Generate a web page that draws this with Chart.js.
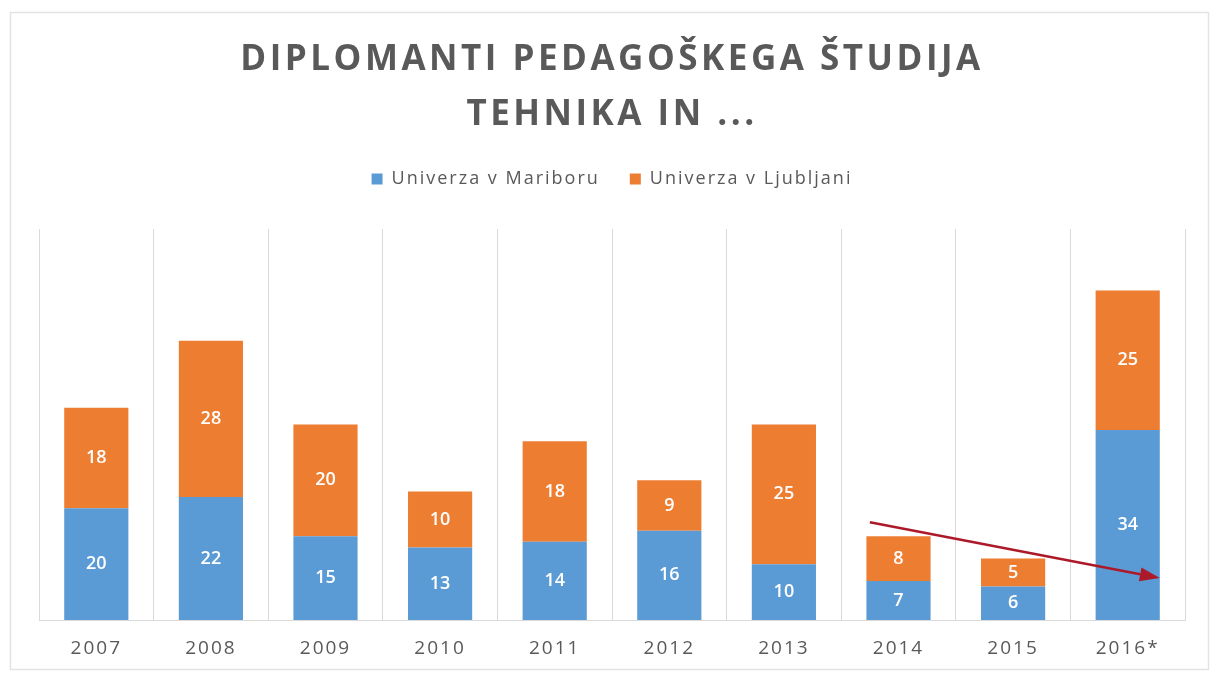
<!DOCTYPE html>
<html>
<head>
<meta charset="utf-8">
<script src="https://cdn.jsdelivr.net/npm/chart.js@4/dist/chart.umd.min.js"></script>
<style>
    html, body { margin: 0; padding: 0; background: #fff; }
    #wrap { width: 1212px; height: 675px; position: relative; }
</style>
</head>
<body>
<div id="wrap"><canvas id="graduates-chart"></canvas></div>
<script>
let years = ['2007', '2008', '2009', '2010', '2011', '2012', '2013', '2014', '2015', '2016*'];
let mariborValues = [20, 22, 15, 13, 14, 16, 10, 7, 6, 34];
let ljubljanaValues = [18, 28, 20, 10, 18, 9, 25, 8, 5, 25];
let seriesNames = ['Univerza v Mariboru', 'Univerza v Ljubljani'];
let titleLines = ['DIPLOMANTI PEDAGOŠKEGA ŠTUDIJA', 'TEHNIKA IN ...'];

// trend arrow, in data units: [category index, value]
let arrowFrom = [6.75, 17.5];
let arrowTo = [9.28, 7.5];

let ctx = document.getElementById('graduates-chart').getContext('2d');
Chart.defaults.font.family = '"Open Sans", sans-serif';

let spacing = {
    id: 'spacing',
    beforeUpdate: function (chart) {
        chart.ctx.letterSpacing = '2px';
    },
    beforeDraw: function (chart) {
        let c = chart.ctx;
        c.letterSpacing = '2px';
        // light frame round the picture
        c.save();
        c.strokeStyle = '#e3e3e3';
        c.lineWidth = 1.5;
        c.strokeRect(10.5, 12.5, 1198, 657);
        c.restore();
    }
};

let extras = {
    id: 'extras',
    afterDatasetsDraw: function (chart) {
        let c = chart.ctx;
        c.save();
        c.letterSpacing = '0px';
        c.font = '600 18px "Open Sans"';
        c.fillStyle = '#ffffff';
        c.textAlign = 'center';
        c.textBaseline = 'middle';
        chart.data.datasets.forEach(function (ds, i) {
            chart.getDatasetMeta(i).data.forEach(function (bar, j) {
                c.fillText(ds.data[j], bar.x, (bar.y + bar.base) / 2);
            });
        });

        // arrow
        let x = chart.scales.x, y = chart.scales.y;
        let x0 = x.getPixelForValue(arrowFrom[0]), y0 = y.getPixelForValue(arrowFrom[1]);
        let x1 = x.getPixelForValue(arrowTo[0]), y1 = y.getPixelForValue(arrowTo[1]);
        let ang = Math.atan2(y1 - y0, x1 - x0);
        let head = 20, half = 7;
        c.strokeStyle = '#ac1a2a';
        c.fillStyle = '#ac1a2a';
        c.lineWidth = 2.5;
        c.beginPath();
        c.moveTo(x0, y0);
        c.lineTo(x1 - head * Math.cos(ang), y1 - head * Math.sin(ang));
        c.stroke();
        c.beginPath();
        c.moveTo(x1, y1);
        c.lineTo(x1 - head * Math.cos(ang) + half * Math.sin(ang), y1 - head * Math.sin(ang) - half * Math.cos(ang));
        c.lineTo(x1 - head * Math.cos(ang) - half * Math.sin(ang), y1 - head * Math.sin(ang) + half * Math.cos(ang));
        c.closePath();
        c.fill();
        c.restore();
    },
    afterDraw: function (chart) {
        let c = chart.ctx;
        let cx = (chart.chartArea.left + chart.chartArea.right) / 2;
        c.save();
        c.letterSpacing = '3.5px';
        c.font = 'bold 35px "Open Sans"';
        c.fillStyle = '#595959';
        c.textAlign = 'center';
        c.textBaseline = 'middle';
        c.fillText(titleLines[0], cx, 60);
        c.fillText(titleLines[1], cx, 115);
        c.restore();
    }
};

let chart = new Chart(ctx, {
    type: 'bar',
    data: {
        labels: years,
        datasets: [{
            label: seriesNames[0],
            data: mariborValues,
            backgroundColor: '#5b9bd5',
            borderWidth: 0,
            barPercentage: 0.56,
            categoryPercentage: 1
        }, {
            label: seriesNames[1],
            data: ljubljanaValues,
            backgroundColor: '#ed7d31',
            borderWidth: 0,
            barPercentage: 0.56,
            categoryPercentage: 1
        }]
    },
    options: {
        responsive: true,
        maintainAspectRatio: false,
        animation: false,
        layout: {padding: {top: 140, left: 39, right: 27, bottom: 16}},
        plugins: {
            legend: {
                position: 'top',
                labels: {
                    boxWidth: 11,
                    boxHeight: 11,
                    padding: 30,
                    color: '#595959',
                    font: {size: 18}
                }
            },
            title: {display: false},
            tooltip: {enabled: false}
        },
        scales: {
            x: {
                stacked: true,
                grid: {color: '#d9d9d9', drawTicks: false, offset: true},
                border: {color: '#d9d9d9'},
                ticks: {color: '#595959', padding: 17, font: {size: 19}},
                afterFit: function (scale) {
                    scale.height = 39;
                }
            },
            legendGap: {
                type: 'category',
                position: 'top',
                grid: {display: false, drawTicks: true, tickLength: 31},
                ticks: {display: false},
                border: {display: false}
            },
            y: {stacked: true, display: false, min: 0, max: 70}
        }
    },
    plugins: [spacing, extras]
});
</script>
</body>
</html>
